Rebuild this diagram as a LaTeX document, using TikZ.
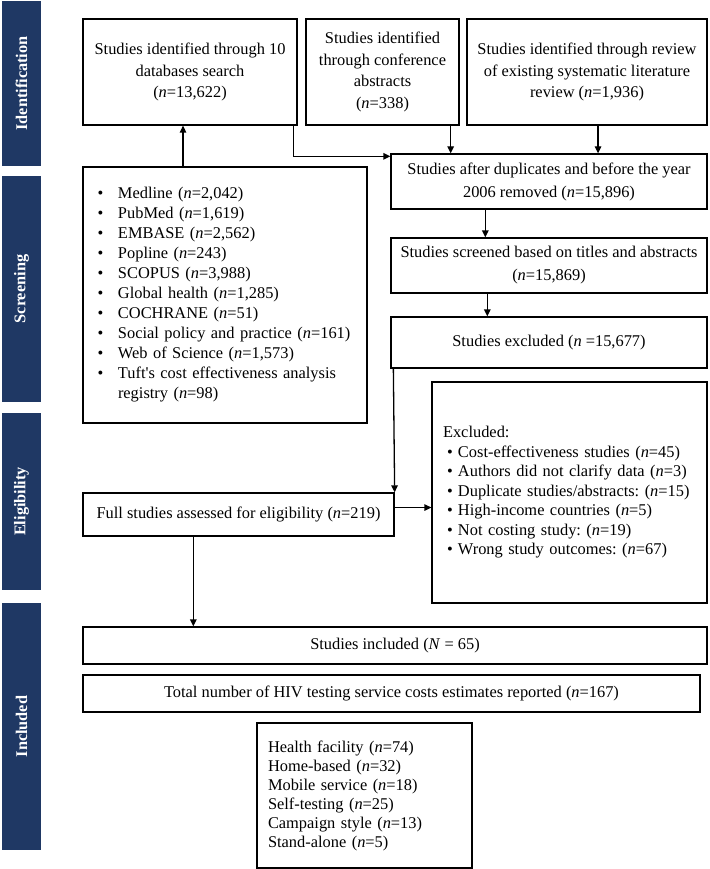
\documentclass[tikz,border=0pt]{standalone}
\usepackage{fontspec}
\setmainfont{Liberation Serif}
\usetikzlibrary{arrows.meta}
\definecolor{stagebar}{RGB}{31,56,100}
\tikzset{%
  flowbox/.style  = {shape=rectangle, draw, align=center, inner sep=0pt},%
  listbox/.style  = {flowbox, align=left, font=\fontsize{16.4}{20}\selectfont},%
  stage/.style    = {shape=rectangle, fill=stagebar, text=white, rotate=90,%
                     inner sep=0pt, minimum height=39,%
                     font=\bfseries\fontsize{16.3}{20}\selectfont}%
}
\newcommand{\dbitem}[1]{\makebox[20.5pt][l]{\textbullet}#1}
\newcommand{\exitem}[1]{\makebox[15pt][l]{\hspace{4pt}\textbullet}#1}
\frenchspacing
\begin{document}
\begin{tikzpicture}[x=1pt,y=-1pt,line width=1.3pt,
>={Triangle[length=7pt,width=6.5pt]},
every node/.style = {font=\fontsize{16.4}{21.7}\selectfont}]
	\useasboundingbox (0,0) rectangle (709,869);
	\node [stage, minimum width=165] (ident) at (21.5,83.5) {Identification};
	\node [stage, minimum width=226] (screen) at (21.5,289) {Screening};
	\node [stage, minimum width=177] (elig) at (21.5,501.5) {Eligibility};
	\node [stage, minimum width=247] (incl) at (21.5,726.5) {Included};
	\node [flowbox, minimum width=214, minimum height=106] (dbsearch) at (190,72)
		{Studies identified through 10\\databases search\\(\textit{n}=13,622)};
	\node [flowbox, minimum width=153, minimum height=106] (confer) at (382.5,72)
		{Studies identified\\through conference\\abstracts\\(\textit{n}=338)};
	\node [flowbox, minimum width=240, minimum height=106] (review) at (587,72)
		{Studies identified through review\\of existing systematic literature\\review (\textit{n}=1,936)};
	\node [flowbox, minimum width=316, minimum height=55, font=\fontsize{16.4}{23}\selectfont] (dedup) at (549,181.5)
		{Studies after duplicates and before the year\\2006 removed (\textit{n}=15,896)};
	\node [flowbox, minimum width=316, minimum height=55, font=\fontsize{16.4}{23}\selectfont] (screened) at (549,265.5)
		{Studies screened based on titles and abstracts\\(\textit{n}=15,869)};
	\node [flowbox, minimum width=316, minimum height=51] (excluded) at (549,342.5)
		{Studies excluded (\textit{n} =15,677)};
	\node [listbox, minimum width=284, minimum height=256, text width=255] (dblist) at (225,295)
		{\dbitem{Medline (\textit{n}=2,042)}\\
		 \dbitem{PubMed (\textit{n}=1,619)}\\
		 \dbitem{EMBASE (\textit{n}=2,562)}\\
		 \dbitem{Popline (\textit{n}=243)}\\
		 \dbitem{SCOPUS (\textit{n}=3,988)}\\
		 \dbitem{Global health (\textit{n}=1,285)}\\
		 \dbitem{COCHRANE (\textit{n}=51)}\\
		 \dbitem{Social policy and practice (\textit{n}=161)}\\
		 \dbitem{Web of Science (\textit{n}=1,573)}\\
		 \dbitem{Tuft\textquotesingle s cost effectiveness analysis}\\
		 \hspace*{20.5pt}registry (\textit{n}=98)};
	\node [flowbox, minimum width=311, minimum height=43] (fulltext) at (238.5,514.5)
		{Full studies assessed for eligibility (\textit{n}=219)};
	\node [listbox, minimum width=275, minimum height=221, text width=253,
		font=\fontsize{16.4}{19.5}\selectfont] (exclist) at (569.5,492.5)
		{Excluded:\\
		 \exitem{Cost-effectiveness studies (\textit{n}=45)}\\
		 \exitem{Authors did not clarify data (\textit{n}=3)}\\
		 \exitem{Duplicate studies/abstracts: (\textit{n}=15)}\\
		 \exitem{High-income countries (\textit{n}=5)}\\
		 \exitem{Not costing study: (\textit{n}=19)}\\
		 \exitem{Wrong study outcomes: (\textit{n}=67)}};
	\node [flowbox, minimum width=624, minimum height=37] (included) at (395,645.5)
		{Studies included (\textit{N} = 65)};
	\node [flowbox, minimum width=617, minimum height=37] (estimates) at (391.5,693.5)
		{Total number of HIV testing service costs estimates reported (\textit{n}=167)};
	\node [listbox, minimum width=215, minimum height=145, text width=193,
		font=\fontsize{16.4}{19}\selectfont] (modality) at (364.5,795.5)
		{Health facility (\textit{n}=74)\\
		 Home-based (\textit{n}=32)\\
		 Mobile service (\textit{n}=18)\\
		 Self-testing (\textit{n}=25)\\
		 Campaign style (\textit{n}=13)\\
		 Stand-alone (\textit{n}=5)};
	\draw [->] ([xshift=-42]dblist.north) -- ([xshift=-42]dblist.north |- dbsearch.south);
	\draw [->] ([xshift=-4]dbsearch.south east) |- ([yshift=-3]dedup.north west);
	\draw [->] ([xshift=-9]confer.south east) -- ([xshift=-9]confer.south east |- dedup.north);
	\draw [->] ([xshift=11]review.south) -- ([xshift=11]review.south |- dedup.north);
	\draw [->] ([xshift=95]dedup.south west) -- ([xshift=95]dedup.south west |- screened.north);
	\draw [->] ([xshift=97]screened.south west) -- ([xshift=97]screened.south west |- excluded.north);
	\draw [->] ([xshift=3]excluded.south west) -- (fulltext.north east);
	\draw [->] ([yshift=7]fulltext.east) -- ([yshift=7]fulltext.east -| exclist.west);
	\draw [->] ([xshift=111]fulltext.south west) -- ([xshift=111]fulltext.south west |- included.north);
\end{tikzpicture}
\end{document}
